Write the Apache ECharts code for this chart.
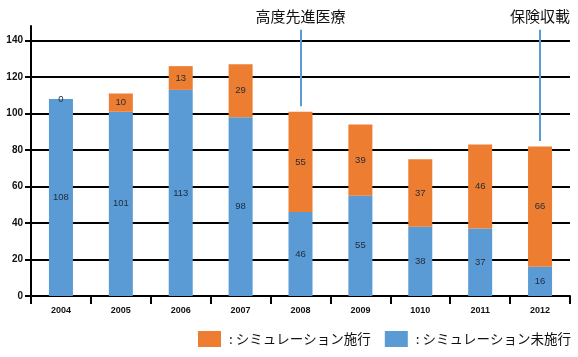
<!DOCTYPE html>
<html><head><meta charset="utf-8">
<script src="https://cdn.jsdelivr.net/npm/echarts@6/dist/echarts.min.js"></script>
<style>html,body{margin:0;padding:0;background:#fff}#c{width:578px;height:357px}</style>
</head><body><div id="c"></div>
<script>
const categories = ['2004','2005','2006','2007','2008','2009','1010','2011','2012'];
const notDone = [108,101,113,98,46,55,38,37,16];
const done = [0,10,13,29,55,39,37,46,66];
const nameDone = 'シミュレーション施行';
const nameNotDone = 'シミュレーション未施行';
const yTicks = [0,20,40,60,80,100,120,140];
const annotations = [
  {label:'高度先進医療', cat:'2008', from:104, to:146},
  {label:'保険収載', cat:'2012', from:85, to:146}
];
const chart = echarts.init(document.getElementById('c'));
const lblStyle = {show:true, position:'inside', color:'#1e2a3a', fontSize:9.5, fontFamily:'Liberation Sans'};
chart.setOption({
  animation:false,
  grid:{left:31, right:8, top:26, bottom:61},
  legend:{
    data:[nameDone, nameNotDone], top:331, left:198, width:380, padding:0,
    itemWidth:23, itemHeight:16, itemGap:14,
    formatter:n=>' : '+n,
    textStyle:{fontSize:13.5, color:'#111', fontFamily:'Noto Sans CJK JP'},
    icon:'rect'
  },
  xAxis:{
    type:'category', data:categories,
    axisLine:{lineStyle:{color:'#000', width:2}},
    axisTick:{show:true, length:8, lineStyle:{color:'#000', width:2}},
    axisLabel:{color:'#111', fontSize:9, fontWeight:'bold', fontFamily:'Liberation Sans', margin:10}
  },
  yAxis:{
    type:'value', min:0, max:148, interval:20,
    axisLine:{show:true, lineStyle:{color:'#000', width:2}},
    axisTick:{show:true, length:6, lineStyle:{color:'#000', width:2}},
    axisLabel:{color:'#111', fontSize:10, fontWeight:'bold', fontFamily:'Liberation Sans', margin:8, showMaxLabel:false},
    splitLine:{show:true, lineStyle:{color:yTicks.map(()=>'#000').concat(['rgba(0,0,0,0)']), width:2}}
  },
  series:[
    {name:nameNotDone, type:'bar', stack:'a', data:notDone, barWidth:24,
     itemStyle:{color:'#5B9BD5'}, label:lblStyle},
    {name:nameDone, type:'bar', stack:'a', data:done, barWidth:24,
     itemStyle:{color:'#ED7D31'}, label:lblStyle,
     markLine:{
       symbol:['none','none'], silent:true,
       lineStyle:{color:'#5B9BD5', width:2, type:'solid'},
       label:{show:true, position:'end', distance:6, color:'#111', fontSize:15, fontFamily:'Noto Sans CJK JP',
              formatter:p=>p.data.name || ''},
       data: annotations.map(a=>[{name:a.label, coord:[a.cat, a.from]}, {coord:[a.cat, a.to]}])
     }}
  ]
});
</script></body></html>
